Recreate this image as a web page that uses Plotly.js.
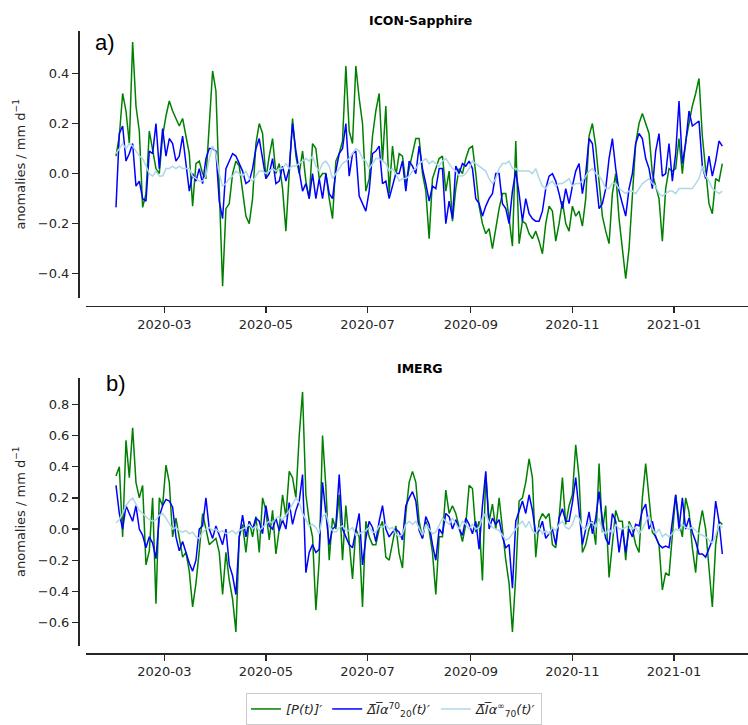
<!DOCTYPE html>
<html>
<head>
<meta charset="utf-8">
<script src="https://cdn.plot.ly/plotly-3.0.1.min.js"></script>
<style>html,body{margin:0;padding:0;background:#fff;}#chart{width:748px;height:725px;}</style>
</head>
<body>
<div id="chart"></div>
<script>
// sampling: every 2 days from 2020-02-01 to 2021-01-31 (183 points)
const startDate = '2020-02-01';
const stepDays = 2;
const nPoints = 183;

const tickStart = '2020-01-01';
const tickStep = 'M2';
const tickFmt = '%Y-%m';

const seriesNames = ['<i>[P(t)]′</i>', '<i>Δ̅I̅α</i><sup>70</sup><sub>20</sub><i>(t)′</i>', '<i>Δ̅I̅α</i><sup>∞</sup><sub>70</sub><i>(t)′</i>'];
const panelTitles = ['ICON-Sapphire', 'IMERG'];
const panelLabels = ['a)', 'b)'];
const yTicksA = [-0.4,-0.2,0,0.2,0.4];
const yTicksB = [-0.6,-0.4,-0.2,0,0.2,0.4,0.6,0.8];

// ICON-Sapphire
const iconP = [0.07,0.15,0.32,0.25,0.12,0.525,0.27,0.17,-0.135,-0.08,
0.17,0.1,0.02,0.0,0.15,0.23,0.29,0.25,0.22,0.19,
0.22,0.15,0.08,-0.13,0.04,0.05,0.0,-0.02,0.22,0.41,
0.33,-0.04,-0.45,-0.14,-0.12,0.0,0.05,0.03,-0.08,-0.17,
-0.2,-0.1,0.12,0.2,0.16,-0.02,0.07,0.14,0.0,0.04,
-0.06,-0.23,0.0,0.22,0.07,0.0,0.09,-0.03,-0.1,0.12,
0.1,-0.02,0.0,0.0,-0.1,-0.18,0.05,0.08,0.13,0.43,
0.17,0.12,0.43,0.3,0.2,-0.07,-0.02,0.15,0.25,0.32,
0.05,0.27,-0.08,0.11,-0.01,0.08,0.07,-0.04,0.02,0.08,
0.14,0.14,0.0,-0.07,-0.26,-0.02,0.02,0.06,0.07,-0.07,
0.01,-0.19,-0.06,0.02,0.0,0.06,0.1,0.11,0.0,-0.13,
-0.2,-0.24,-0.22,-0.3,-0.22,-0.14,-0.08,-0.08,-0.18,-0.29,
0.13,-0.28,-0.19,-0.2,-0.24,-0.26,-0.23,-0.27,-0.32,-0.2,
-0.13,-0.15,-0.27,-0.2,-0.11,-0.2,-0.23,-0.13,-0.17,-0.15,
-0.21,-0.1,0.15,0.2,0.11,-0.04,-0.17,-0.23,-0.28,-0.08,
0.0,-0.18,-0.3,-0.42,-0.3,-0.1,0.12,0.2,0.24,0.2,
0.16,0.0,-0.05,-0.1,-0.27,-0.06,0.02,0.01,0.02,0.14,
0.0,0.13,0.2,0.27,0.32,0.38,0.15,0.0,-0.12,-0.16,
-0.02,-0.03,0.04];
const iconA20 = [-0.135,0.16,0.19,0.05,0.08,0.12,-0.05,-0.03,-0.1,-0.11,
0.09,0.08,0.2,0.02,0.18,0.07,0.14,0.12,0.05,0.07,
0.15,0.05,-0.07,0.0,-0.03,0.02,-0.04,0.06,0.1,0.1,
0.09,-0.11,-0.18,0.02,0.05,0.08,0.07,0.04,0.01,-0.04,
-0.03,0.02,0.1,0.14,0.05,-0.02,0.0,0.06,-0.04,-0.03,
0.03,-0.03,0.02,0.2,0.09,0.0,-0.07,-0.04,-0.1,0.0,
-0.1,-0.02,-0.1,0.0,-0.08,-0.1,0.01,0.08,0.1,0.2,
-0.01,0.08,0.09,-0.09,-0.12,-0.15,-0.07,0.08,0.09,0.11,
-0.04,-0.03,-0.1,-0.05,0.0,0.0,0.05,-0.07,0.05,0.03,
0.0,0.11,0.02,-0.04,-0.11,-0.05,-0.06,0.02,0.02,-0.2,
-0.11,-0.18,0.03,0.0,0.04,0.03,0.05,0.02,-0.1,-0.12,
-0.17,-0.13,-0.1,-0.08,0.0,0.0,-0.12,-0.14,-0.2,-0.07,
0.01,-0.08,-0.19,-0.1,-0.16,-0.18,-0.19,-0.19,-0.15,-0.06,
-0.01,0.0,-0.03,-0.08,-0.14,-0.06,-0.12,-0.05,0.01,0.04,
-0.08,0.0,0.14,0.12,0.0,-0.14,-0.12,-0.06,0.06,0.14,
0.02,-0.07,-0.12,-0.17,-0.06,0.0,0.12,0.16,0.14,0.06,
0.02,-0.06,0.09,0.16,-0.01,0.0,0.12,-0.03,0.08,0.29,
0.04,0.12,0.25,0.19,0.2,0.21,0.03,-0.02,0.07,-0.01,
0.05,0.13,0.11];
const iconA70 = [0.08,0.1,0.12,0.1,0.12,0.11,0.09,0.07,0.06,0.03,
0.0,-0.01,0.01,-0.01,-0.01,0.02,0.02,0.03,0.02,0.03,
0.02,0.02,0.02,-0.01,-0.02,-0.03,-0.03,-0.01,0.06,0.11,
0.08,0.0,-0.05,-0.04,-0.02,-0.01,0.01,0.0,-0.01,0.01,
-0.02,-0.03,-0.01,0.01,0.01,0.0,0.01,0.02,0.01,0.02,
0.02,0.04,0.02,0.03,0.03,0.04,0.05,0.06,0.05,0.07,
0.03,0.01,0.04,0.05,0.03,-0.02,0.0,0.02,0.04,0.05,
0.06,0.08,0.1,0.09,0.06,0.05,0.02,0.04,0.06,0.06,
0.05,0.04,0.01,0.02,0.0,-0.03,-0.02,-0.02,-0.01,0.01,
0.02,0.04,0.05,0.06,0.04,0.05,0.04,0.03,0.05,0.06,
0.04,0.02,0.01,-0.01,-0.01,0.0,0.02,0.05,0.04,0.03,
0.02,0.01,-0.02,-0.04,-0.02,0.02,0.04,0.04,0.05,0.02,
0.02,0.01,0.01,0.01,0.01,0.0,0.02,-0.02,-0.05,-0.06,
-0.04,-0.03,-0.05,-0.04,-0.04,-0.03,-0.02,-0.05,-0.04,-0.04,
-0.03,-0.01,0.01,0.02,0.0,-0.01,-0.03,-0.06,-0.06,-0.04,
-0.04,-0.06,-0.07,-0.08,-0.07,-0.07,-0.08,-0.06,-0.04,-0.03,
-0.02,-0.04,-0.05,-0.08,-0.09,-0.08,-0.07,-0.07,-0.08,-0.06,
-0.06,-0.06,-0.06,-0.06,-0.04,-0.02,0.03,-0.01,-0.03,-0.06,
-0.07,-0.08,-0.07];

// IMERG
const imergP = [0.34,0.4,-0.05,0.57,0.33,0.65,0.3,0.2,0.28,-0.23,
-0.14,0.2,-0.48,0.2,0.15,0.41,0.3,-0.05,0.07,-0.05,
-0.18,-0.15,-0.27,-0.5,-0.35,-0.14,0.1,0.0,-0.1,-0.08,
-0.06,-0.15,-0.42,-0.15,-0.33,-0.45,-0.66,-0.05,0.03,-0.15,
0.05,-0.05,0.08,-0.15,0.2,0.12,-0.07,0.12,-0.16,0.0,
0.22,0.08,0.37,0.33,0.2,0.6,0.88,0.22,0.05,-0.05,
-0.52,-0.2,0.6,0.27,-0.2,0.07,0.0,0.22,-0.2,0.15,
-0.1,-0.32,0.0,-0.05,-0.5,0.05,-0.05,-0.1,-0.1,0.0,
0.05,-0.18,-0.2,-0.1,0.02,-0.16,-0.25,0.1,0.3,0.37,
0.3,0.05,-0.06,0.05,-0.01,-0.15,-0.42,-0.05,-0.05,0.25,
0.1,0.15,0.1,0.01,-0.08,0.03,0.28,0.26,-0.02,0.05,
-0.33,0.35,0.05,0.16,0.0,0.2,0.0,-0.2,-0.35,-0.66,
-0.3,0.18,0.2,0.3,0.45,0.33,-0.18,0.05,0.1,0.07,
0.1,-0.1,-0.12,0.07,0.33,0.03,0.15,0.22,0.54,0.33,
-0.15,-0.1,0.0,0.05,-0.1,0.42,-0.02,0.15,-0.31,-0.1,
0.12,0.05,0.05,-0.2,0.05,0.0,-0.1,-0.15,0.2,0.42,
0.22,-0.02,-0.05,-0.1,-0.39,-0.28,-0.3,-0.02,0.22,0.05,
-0.05,0.2,0.11,-0.12,-0.28,0.0,0.12,0.0,-0.25,-0.5,
-0.1,0.05,0.03];
const imergA20 = [0.28,0.1,0.0,0.15,0.1,0.05,0.15,0.0,-0.04,-0.12,
-0.05,-0.09,-0.19,0.08,0.15,0.19,0.18,0.14,-0.05,-0.14,
-0.08,-0.15,-0.22,-0.27,-0.2,0.0,0.02,0.2,0.0,-0.06,
0.02,-0.04,-0.1,0.0,-0.23,-0.3,-0.42,-0.05,0.09,-0.05,
0.05,0.0,0.07,0.05,-0.03,0.15,0.02,0.0,0.07,-0.01,
0.06,0.0,0.17,0.03,0.12,0.18,0.35,-0.28,-0.15,-0.1,
-0.15,-0.13,0.3,0.1,-0.1,0.0,0.02,0.35,0.0,-0.05,
-0.1,-0.12,0.0,0.1,-0.23,-0.06,0.05,0.01,-0.08,0.05,
0.15,0.0,-0.05,-0.02,0.0,-0.02,-0.07,0.15,0.2,0.24,
0.18,-0.01,-0.06,0.08,0.03,-0.1,-0.2,0.0,-0.03,0.1,
0.08,0.0,0.06,0.0,-0.04,0.07,0.03,-0.03,0.05,-0.13,
0.15,0.37,0.0,0.07,0.03,0.06,-0.05,-0.12,-0.1,-0.38,
0.05,0.12,0.18,0.1,0.22,0.12,-0.03,-0.01,0.05,-0.06,
-0.03,0.0,-0.1,0.07,0.13,0.05,0.05,0.17,0.33,0.1,
-0.1,0.0,0.11,-0.03,0.07,0.24,0.06,-0.06,-0.1,0.1,
0.05,-0.15,0.0,-0.15,0.0,-0.05,0.03,0.02,0.12,0.16,
0.0,0.05,-0.05,-0.1,-0.12,-0.11,-0.12,0.05,0.22,0.0,
0.2,0.0,0.07,-0.02,-0.08,-0.16,-0.16,-0.18,-0.12,-0.07,
0.18,0.05,-0.16];
const imergA70 = [0.04,0.06,0.1,0.15,0.18,0.2,0.16,0.12,0.1,0.08,
0.06,0.05,0.06,0.09,0.1,0.07,0.03,0.0,0.01,-0.01,
-0.02,-0.01,-0.03,-0.02,-0.05,-0.06,-0.02,0.0,0.01,-0.01,
0.0,-0.02,-0.01,-0.03,-0.02,-0.01,-0.03,-0.01,0.0,0.01,
0.03,0.0,0.02,-0.01,0.01,0.03,0.05,0.04,0.07,0.08,
0.06,0.09,0.12,0.16,0.2,0.17,0.1,0.06,0.02,0.03,
0.01,-0.03,0.08,0.1,0.02,-0.01,-0.02,0.01,0.02,-0.01,
-0.01,0.01,-0.04,-0.03,-0.02,-0.01,0.01,-0.02,-0.02,0.02,
0.01,0.03,0.0,0.01,-0.03,-0.05,-0.03,0.03,0.05,0.03,
0.05,0.0,-0.04,0.03,0.0,-0.03,-0.02,0.03,0.07,0.05,
0.03,0.07,0.03,0.0,0.05,0.03,0.0,0.03,0.0,0.01,
0.07,0.1,0.04,0.01,0.0,-0.01,-0.04,-0.07,-0.06,-0.03,
0.0,0.03,0.05,0.01,0.05,-0.01,-0.03,0.01,-0.03,-0.01,
-0.03,0.01,-0.01,0.03,0.05,0.01,0.0,0.03,0.09,0.07,
0.01,0.0,0.04,0.04,0.01,0.07,-0.01,-0.03,0.0,-0.03,
0.03,0.0,0.0,0.01,0.03,0.0,0.01,-0.03,0.0,0.05,
0.09,0.0,-0.03,0.0,-0.05,-0.03,-0.05,-0.03,0.0,-0.01,
0.03,0.01,0.0,0.01,-0.01,-0.03,-0.04,-0.05,-0.07,-0.09,
-0.04,0.03,0.01];

function buildDates() {
  const out = [];
  const t0 = Date.parse(startDate + 'T00:00:00Z');
  for (let i = 0; i < nPoints; i++) {
    const d = new Date(t0 + i * stepDays * 86400000);
    out.push(d.toISOString().slice(0, 10));
  }
  return out;
}
const dates = buildDates();

const colors = ['#008000', '#0000ff', '#add8e6'];
const ink = '#262626';
const FONT = 'DejaVu Sans, sans-serif';

function tr(y, i, xa, ya, show) {
  return {
    x: dates, y: y, type: 'scatter', mode: 'lines',
    name: seriesNames[i], legendgroup: 'g' + i, showlegend: show,
    line: {color: colors[i], width: 1.5},
    xaxis: xa, yaxis: ya, hoverinfo: 'skip'
  };
}

const data = [
  tr(iconP, 0, 'x', 'y', true), tr(iconA20, 1, 'x', 'y', true), tr(iconA70, 2, 'x', 'y', true),
  tr(imergP, 0, 'x2', 'y2', false), tr(imergA20, 1, 'x2', 'y2', false), tr(imergA70, 2, 'x2', 'y2', false)
];

const L = 78, W = 748, H = 725;
const px = v => (v - L) / (W - L);
const py = v => 1 - v / H;

function xax(pos) {
  return {
    type: 'date',
    domain: [px(86), 1], anchor: 'free', position: pos,
    range: ['2020-01-14', '2021-02-14 10:00'],
    tick0: tickStart, dtick: tickStep, tickformat: tickFmt,
    showline: true, linecolor: ink, linewidth: 1.5,
    ticks: 'outside', ticklen: 6, tickwidth: 1.3, tickcolor: ink,
    showgrid: false, zeroline: false,
    tickfont: {family: FONT, size: 13, color: ink}
  };
}
function yax(dom, rng, tv) {
  return {
    domain: dom, anchor: 'free', position: 0,
    range: rng, tickvals: tv, tickformat: '.1f',
    showline: true, linecolor: ink, linewidth: 1.5,
    ticks: 'outside', ticklen: 6, tickwidth: 1.3, tickcolor: ink,
    showgrid: false, zeroline: false,
    tickfont: {family: FONT, size: 13, color: ink},
    title: {text: 'anomalies / mm d<sup>−1</sup>', font: {family: FONT, size: 13, color: ink}, standoff: 8}
  };
}

const layout = {
  width: W, height: H,
  margin: {l: L, r: 0, t: 0, b: 0},
  paper_bgcolor: '#ffffff', plot_bgcolor: '#ffffff',
  font: {family: FONT, color: ink},
  showlegend: true,
  xaxis: xax(py(307)),
  yaxis: yax([py(299), py(31)], [-0.496, 0.570], yTicksA),
  xaxis2: xax(py(656)),
  yaxis2: yax([py(648.3), py(379.3)], [-0.748, 0.971], yTicksB),
  legend: {
    orientation: 'h', x: px(246), xanchor: 'left', y: py(696), yanchor: 'top',
    bordercolor: '#cccccc', borderwidth: 1, bgcolor: '#ffffff',
    font: {family: FONT, size: 13, color: ink}
  },
  annotations: [
    {text: '<b>' + panelTitles[0] + '</b>', x: px(420), y: py(21), xref: 'paper', yref: 'paper', showarrow: false, xanchor: 'center', yanchor: 'middle', font: {family: FONT, size: 12.5, color: '#000'}},
    {text: '<b>' + panelTitles[1] + '</b>', x: px(420), y: py(370), xref: 'paper', yref: 'paper', showarrow: false, xanchor: 'center', yanchor: 'middle', font: {family: FONT, size: 12.5, color: '#000'}},
    {text: panelLabels[0], x: px(105), y: py(43), xref: 'paper', yref: 'paper', showarrow: false, xanchor: 'center', yanchor: 'middle', font: {family: 'Liberation Sans, Arial, sans-serif', size: 22, color: '#000'}},
    {text: panelLabels[1], x: px(116), y: py(385), xref: 'paper', yref: 'paper', showarrow: false, xanchor: 'center', yanchor: 'middle', font: {family: 'Liberation Sans, Arial, sans-serif', size: 22, color: '#000'}}
  ]
};

Plotly.newPlot('chart', data, layout, {staticPlot: true, displayModeBar: false});
</script>
</body>
</html>
